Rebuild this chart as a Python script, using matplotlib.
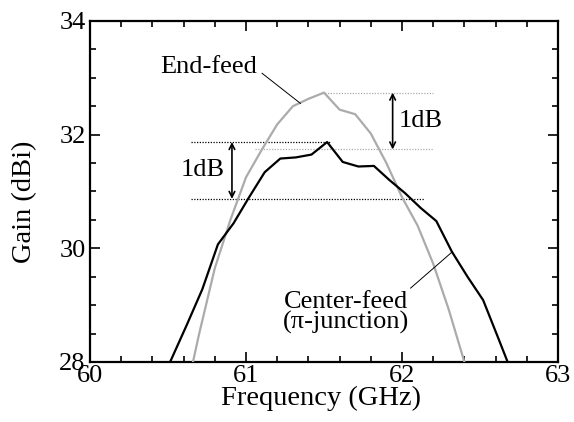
import matplotlib
matplotlib.use("Agg")
import matplotlib.pyplot as plt
from matplotlib.ticker import MultipleLocator

plt.rcParams['font.family'] = ['Liberation Serif', 'DejaVu Serif']
plt.rcParams['mathtext.fontset'] = 'stix'

# Center-feed (pi-junction) gain
freq_center = [60.42, 60.52, 60.62, 60.72, 60.82, 60.92, 61.02, 61.12, 61.22, 61.32,
               61.42, 61.52, 61.62, 61.72, 61.82, 61.92, 62.02, 62.12, 62.22, 62.32,
               62.42, 62.52, 62.62, 62.72]
gain_center = [27.45, 28.04, 28.65, 29.28, 30.07, 30.44, 30.90, 31.34, 31.58, 31.60,
               31.65, 31.87, 31.52, 31.44, 31.45, 31.20, 30.97, 30.71, 30.48, 29.94,
               29.50, 29.09, 28.40, 27.70]

# End-feed gain
freq_end = [60.6, 60.7, 60.8, 60.9, 61.0, 61.1, 61.2, 61.3, 61.4, 61.5,
            61.6, 61.7, 61.8, 61.9, 62.0, 62.1, 62.2, 62.3, 62.4, 62.5]
gain_end = [27.25, 28.5, 29.65, 30.5, 31.25, 31.73, 32.18, 32.50, 32.63, 32.74,
            32.44, 32.36, 32.02, 31.50, 30.90, 30.40, 29.73, 28.92, 28.0, 27.1]

xticks = [60, 61, 62, 63]
yticks = [28, 30, 32, 34]

fig = plt.figure(figsize=(5.74, 4.22), dpi=100)
ax = fig.add_axes([90/574, 60/422, 468/574, 341/422])

ax.plot(freq_end, gain_end, color='#ababab', lw=1.6, zorder=3)
ax.plot(freq_center, gain_center, color='black', lw=1.6, zorder=4)

ax.set_xlim(60, 63)
ax.set_ylim(28, 34)
ax.set_xticks(xticks)
ax.set_yticks(yticks)
ax.set_xticklabels([str(t) for t in xticks])
ax.set_yticklabels([str(t) for t in yticks])
ax.xaxis.set_minor_locator(MultipleLocator(0.2))
ax.yaxis.set_minor_locator(MultipleLocator(0.5))
ax.tick_params(which='both', direction='in', top=True, right=True, width=1.2, colors='black')
ax.tick_params(which='major', length=7, labelsize=19)
ax.tick_params(which='minor', length=4.3)
ax.tick_params(axis='x', which='major', pad=2)
ax.tick_params(axis='y', which='major', pad=3)
for s in ax.spines.values():
    s.set_linewidth(1.6)

ax.set_xlabel('Frequency (GHz)', fontsize=20.5)
ax.set_ylabel('Gain (dBi)', fontsize=20.5)
ax.xaxis.set_label_coords(0.493, -0.07)
ax.yaxis.set_label_coords(-0.112, 0.47)

# 1dB reference lines (center-feed)
c_peak = max(gain_center)
ax.plot([60.65, 61.54], [c_peak, c_peak], color='black', lw=0.9, ls=(0, (1, 1.2)), zorder=2)
ax.plot([60.65, 62.14], [c_peak - 1, c_peak - 1], color='black', lw=0.9, ls=(0, (1, 1.2)), zorder=2)
ax.annotate('', xy=(60.91, c_peak - 1), xytext=(60.91, c_peak),
            arrowprops=dict(arrowstyle='<->', color='black', lw=1.2,
                            shrinkA=0, shrinkB=0, mutation_scale=10))
ax.text(60.72, c_peak - 0.5, '1dB', fontsize=19, ha='center', va='center')

# 1dB reference lines (end-feed)
e_peak = max(gain_end)
ax.plot([61.49, 62.2], [e_peak, e_peak], color='#aaaaaa', lw=0.9, ls=(0, (1, 1.2)), zorder=2)
ax.plot([61.055, 62.2], [e_peak - 1, e_peak - 1], color='#aaaaaa', lw=0.9, ls=(0, (1, 1.2)), zorder=2)
ax.annotate('', xy=(61.94, e_peak - 1), xytext=(61.94, e_peak),
            arrowprops=dict(arrowstyle='<->', color='black', lw=1.2,
                            shrinkA=0, shrinkB=0, mutation_scale=10))
ax.text(62.12, e_peak - 0.5, '1dB', fontsize=19, ha='center', va='center')

# Labels with leader lines
ax.text(60.763, 33.19, 'End-feed', fontsize=19, ha='center', va='center')
ax.plot([61.103, 61.349], [33.08, 32.55], color='black', lw=0.7, zorder=5)

ax.text(61.64, 28.87, 'Center-feed\n(\u03c0-junction)', fontsize=19, ha='center', va='center',
        linespacing=0.92)
ax.plot([62.055, 62.323], [29.30, 29.94], color='black', lw=0.7, zorder=5)

fig.savefig('out.png', dpi=100)
